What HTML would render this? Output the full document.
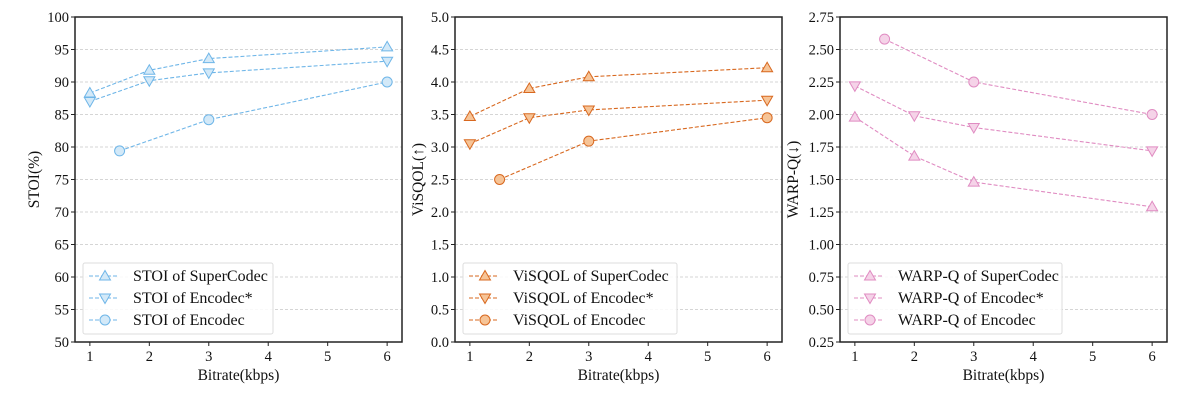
<!DOCTYPE html>
<html><head><meta charset="utf-8"><style>
html,body{margin:0;padding:0;background:#fff;}
svg{display:block;font-family:"Liberation Serif",serif;}
</style></head><body>
<svg id="chart" width="1182" height="401" viewBox="0 0 1182 401"></svg>
<script>
const bitrates = [1, 2, 3, 6];
const encBitrates = [1.5, 3, 6];
const xTicks = [1, 2, 3, 4, 5, 6];

const stoiSuper = [88.3, 91.8, 93.6, 95.4];
const stoiEncStar = [87.0, 90.2, 91.4, 93.2];
const stoiEnc = [79.4, 84.2, 90.0];
const stoiTicks = ["50","55","60","65","70","75","80","85","90","95","100"];

const visqolSuper = [3.47, 3.90, 4.08, 4.22];
const visqolEncStar = [3.05, 3.45, 3.57, 3.72];
const visqolEnc = [2.50, 3.09, 3.45];
const visqolTicks = ["0.0","0.5","1.0","1.5","2.0","2.5","3.0","3.5","4.0","4.5","5.0"];

const warpSuper = [1.98, 1.68, 1.48, 1.29];
const warpEncStar = [2.22, 1.99, 1.90, 1.72];
const warpEnc = [2.58, 2.25, 2.00];
const warpTicks = ["0.25","0.50","0.75","1.00","1.25","1.50","1.75","2.00","2.25","2.50","2.75"];

const NS = "http://www.w3.org/2000/svg";
const svg = document.getElementById("chart");
function mk(tag, attrs, parent) {
  const e = document.createElementNS(NS, tag);
  for (const k in attrs) e.setAttribute(k, attrs[k]);
  (parent || svg).appendChild(e);
  return e;
}

function marker(g, type, x, y, stroke, fill) {
  let m;
  if (type === "up") {
    m = mk("polygon", {points: `${x},${y-5.5} ${x-5.5},${y+4} ${x+5.5},${y+4}`, fill, stroke, "stroke-width": 1});
  } else if (type === "down") {
    m = mk("polygon", {points: `${x},${y+5.5} ${x-5.5},${y-4} ${x+5.5},${y-4}`, fill, stroke, "stroke-width": 1});
  } else {
    m = mk("circle", {cx: x, cy: y, r: 5, fill, stroke, "stroke-width": 1});
  }
  g.appendChild(m);
  return m;
}

function panel(cfg) {
  const L = cfg.left, R = cfg.left + 327, T = 17, B = 342;
  const xs = v => L + (v - 0.75) / 5.5 * (R - L);
  const ys = v => B - (v - cfg.ymin) / (cfg.ymax - cfg.ymin) * (B - T);
  const g = mk("g", {});
  
  
  cfg.ticks.forEach(t => {
    const y = ys(parseFloat(t));
    const gl = mk("line", {x1: L, x2: R, y1: y, y2: y, stroke: "#c8c8c8", "stroke-width": 0.8, "stroke-dasharray": "3,2"}, g);
    
    
    mk("line", {x1: L - 4, x2: L, y1: y, y2: y, stroke: "#222", "stroke-width": 1}, g);
    const tl = mk("text", {x: L - 6, y: y + 5, "text-anchor": "end", "font-size": 14.5, fill: "#111"}, g);
    tl.textContent = t;
    
    
  });
  xTicks.forEach(t => {
    const x = xs(t);
    mk("line", {x1: x, x2: x, y1: B, y2: B + 4, stroke: "#222", "stroke-width": 1}, g);
    const tl = mk("text", {x: x, y: B + 19, "text-anchor": "middle", "font-size": 14.5, fill: "#111"}, g);
    tl.textContent = t;
    
    
  });
  const xt = mk("text", {x: (L + R) / 2, y: 380, "text-anchor": "middle", "font-size": 15.5, fill: "#111"}, g);
  xt.textContent = "Bitrate(kbps)";
  
  
  const ytx = L - cfg.ytOff;
  const yt = mk("text", {x: ytx, y: (T + B) / 2, "text-anchor": "middle", "font-size": 15.5, fill: "#111", transform: `rotate(-90 ${ytx} ${(T + B) / 2})`}, g);
  yt.textContent = cfg.ylabel;
  
  

  const series = [
    {xv: bitrates, yv: cfg.s1, m: "up", label: cfg.prefix + " of SuperCodec", n: "supercodec"},
    {xv: bitrates, yv: cfg.s2, m: "down", label: cfg.prefix + " of Encodec*", n: "encodec-star"},
    {xv: encBitrates, yv: cfg.s3, m: "circle", label: cfg.prefix + " of Encodec", n: "encodec"}
  ];
  series.forEach(s => {
    const sg = mk("g", {}, g);
    
    
    const pts = s.xv.map((x, i) => `${xs(x)},${ys(s.yv[i])}`).join(" ");
    mk("polyline", {points: pts, fill: "none", stroke: cfg.color, "stroke-width": 1.1, "stroke-dasharray": "4,2"}, sg);
    s.xv.forEach((x, i) => {
      const m = marker(sg, s.m, xs(x), ys(s.yv[i]), cfg.color, cfg.fill);
      
      
    });
  });
  mk("rect", {x: L, y: T, width: R - L, height: B - T, fill: "none", stroke: "#222", "stroke-width": 1.5}, g);
  const lg = mk("g", {}, g);
  
  
  mk("rect", {x: L + 8, y: 263, width: cfg.legW, height: 71, rx: 2, fill: "#fff", "fill-opacity": 0.85, stroke: "#ddd", "stroke-width": 1}, lg);
  series.forEach((s, i) => {
    const y = 276 + i * 22;
    const e = mk("g", {}, lg);
    
    
    mk("line", {x1: L + 14, x2: L + 44, y1: y, y2: y, stroke: cfg.color, "stroke-width": 1.1, "stroke-dasharray": "4,2"}, e);
    marker(e, s.m, L + 30, y, cfg.color, cfg.fill);
    const t = mk("text", {x: L + 58, y: y + 5, "font-size": 16, fill: "#111"}, e);
    t.textContent = s.label;
  });
}

panel({name: "stoi", left: 75, ymin: 50, ymax: 100, ticks: stoiTicks, s1: stoiSuper, s2: stoiEncStar, s3: stoiEnc,
  color: "#6fb6e8", fill: "#d3e9f8", prefix: "STOI", ylabel: "STOI(%)", ytOff: 36, legW: 190});
panel({name: "visqol", left: 455, ymin: 0, ymax: 5, ticks: visqolTicks, s1: visqolSuper, s2: visqolEncStar, s3: visqolEnc,
  color: "#d8681f", fill: "#f6c497", prefix: "ViSQOL", ylabel: "ViSQOL(↑)", ytOff: 32, legW: 214});
panel({name: "warpq", left: 840, ymin: 0.25, ymax: 2.75, ticks: warpTicks, s1: warpSuper, s2: warpEncStar, s3: warpEnc,
  color: "#e08cc2", fill: "#f5d3e8", prefix: "WARP-Q", ylabel: "WARP-Q(↓)", ytOff: 42, legW: 214});
</script>
</body></html>
